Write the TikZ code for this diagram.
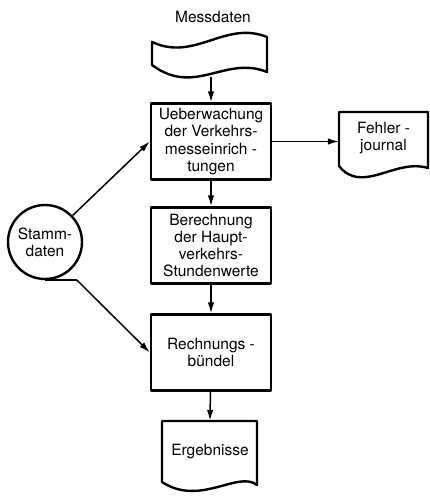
\documentclass[tikz,border=0pt]{standalone}
\usepackage{fontspec}
\setmainfont{TeX Gyre Heros}
\usetikzlibrary{arrows.meta}

\begin{document}
\begin{tikzpicture}[x=1pt,y=-1pt,line join=round,
    >={Latex[length=11pt,width=6.5pt]},
    every node/.style={font=\fontsize{15.5}{17.2}\selectfont, align=center},
    box/.style={draw, line width=2.4pt, minimum width=120pt, minimum height=76pt, inner sep=0pt},
    outline/.style={line width=2.4pt},
    flow/.style={line width=1.5pt, ->}]
    \useasboundingbox (0,0) rectangle (430,497);

    % Eingabe
    \node (mlabel) at (213,17) {Messdaten};
    \draw[outline] (152,42) .. controls (195,62) and (225,20) .. (267,37)
        -- (267,72) .. controls (225,55) and (195,97) .. (152,65) -- cycle;
    \coordinate (messfoot) at (211,77);

    % Verarbeitung
    \node[box] (ueber) at (211,141.5) {Ueberwachung\\der Verkehrs-\\messeinrich -\\tungen};
    \node[box] (berech) at (211,245.5) {Berechnung\\der Haupt-\\verkehrs-\\Stundenwerte};
    \node[box] (rech) at (211,352.5) {Rechnungs -\\bündel};

    % Dokumente
    \node[minimum width=89pt, minimum height=56pt, inner sep=0pt] (fehler) at (383.5,138) {Fehler -\\journal};
    \draw[outline] (339,112) -- (428,112) -- (428,168)
        .. controls (395,158) and (362,195) .. (339,166) -- cycle;
    \node[minimum width=95pt, minimum height=62pt, inner sep=0pt] (erg) at (210,452) {Ergebnisse};
    \draw[outline] (162,421) -- (257,421) -- (257,485)
        .. controls (238,470) and (200,507) .. (162,482) -- cycle;

    % Stammdaten
    \node[circle, draw, line width=2.4pt, minimum size=74pt, inner sep=0pt] (stamm) at (45,242) {Stamm-\\daten};
    \draw[outline] (stamm.south) -- ++(32,0) coordinate (tail);

    % Verbindungen
    \draw[flow] (messfoot) -- (ueber.north);
    \draw[flow] (ueber) -- (berech);
    \draw[flow] (berech) -- (rech);
    \draw[flow] (rech) -- (erg.north);
    \draw[flow] (ueber.east) -- (ueber.east -| fehler.west);
    \draw[flow] (stamm) -- (ueber.west);
    \draw[flow] (tail) -- (rech.west);
\end{tikzpicture}
\end{document}
